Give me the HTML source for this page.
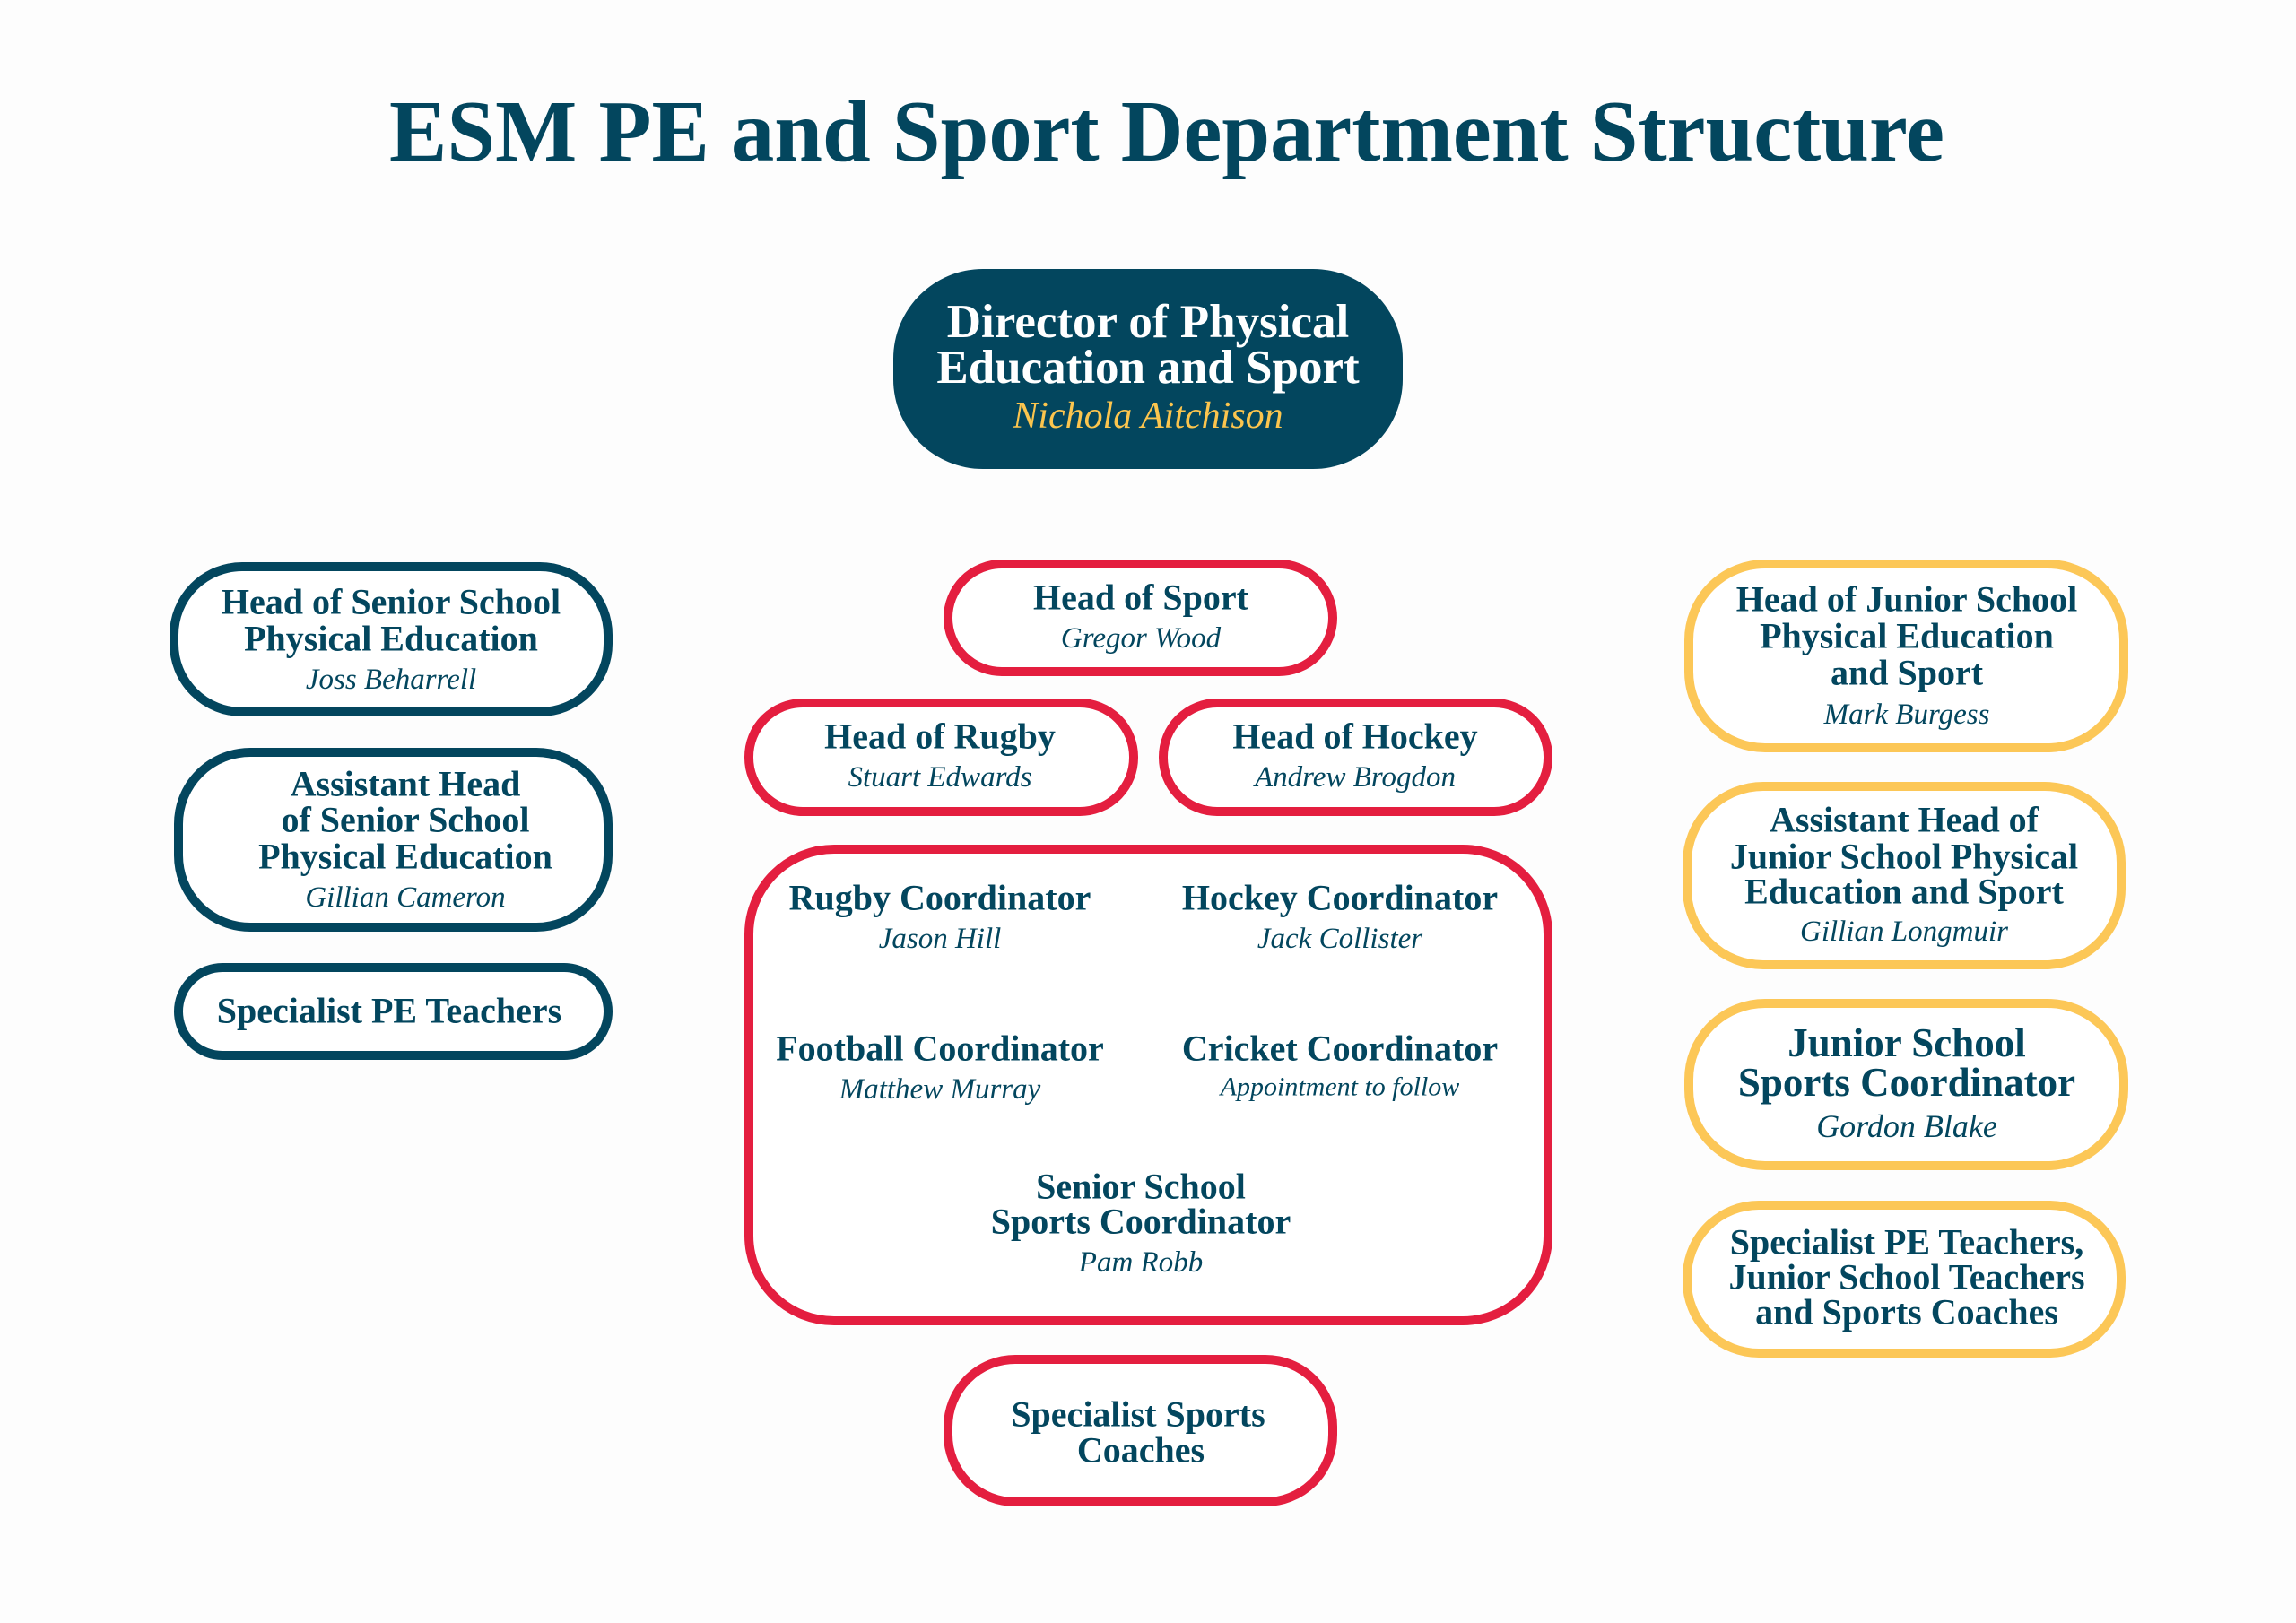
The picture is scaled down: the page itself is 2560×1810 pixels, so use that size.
<!DOCTYPE html>
<html><head><meta charset="utf-8"><style>
html,body{margin:0;padding:0;background:#fdfdfd;}
svg{display:block}
text{font-family:"Liberation Serif",serif;fill:#03465e;text-anchor:middle;dominant-baseline:central}
.b{font-weight:bold;font-size:40px}
.i{font-style:italic;font-size:33px}
</style></head><body>
<svg width="2560" height="1810" viewBox="0 0 2560 1810" xmlns="http://www.w3.org/2000/svg">
<rect width="2560" height="1810" fill="#fdfdfd"/>
<text x="1301" y="147" font-size="98" font-weight="bold" textLength="1734" lengthAdjust="spacingAndGlyphs">ESM PE and Sport Department Structure</text>

<rect x="996" y="300" width="568" height="223" rx="100" fill="#03465e"/>
<text x="1280" y="359" font-size="53" font-weight="bold" style="fill:#fff">Director of Physical</text>
<text x="1280" y="410" font-size="53" font-weight="bold" style="fill:#fff">Education and Sport</text>
<text x="1280" y="464" font-size="42" font-style="italic" style="fill:#fcc54e">Nichola Aitchison</text>

<g fill="#fff" stroke-width="10" stroke="#03465e">
<rect x="194" y="632" width="484" height="162" rx="76"/>
<rect x="199" y="839" width="479" height="195" rx="80"/>
<rect x="199" y="1079" width="479" height="98" rx="49"/>
</g>
<g fill="#fff" stroke-width="10" stroke="#e41e3f">
<rect x="1057" y="629" width="429" height="120" rx="60"/>
<rect x="835" y="784" width="429" height="121" rx="60"/>
<rect x="1297" y="784" width="429" height="121" rx="60"/>
<rect x="835" y="947" width="891" height="526" rx="95"/>
<rect x="1057" y="1516" width="429" height="159" rx="75"/>
</g>
<g fill="#fff" stroke-width="10" stroke="#fcc757">
<rect x="1883" y="629" width="485" height="205" rx="85"/>
<rect x="1881" y="877" width="484" height="199" rx="85"/>
<rect x="1883" y="1119" width="485" height="181" rx="85"/>
<rect x="1881" y="1344" width="484" height="165" rx="80"/>
</g>

<text class="b" x="436" y="671">Head of Senior School</text>
<text class="b" x="436" y="712">Physical Education</text>
<text class="i" x="436" y="758">Joss Beharrell</text>

<text class="b" x="452" y="874">Assistant Head</text>
<text class="b" x="452" y="914">of Senior School</text>
<text class="b" x="452" y="955">Physical Education</text>
<text class="i" x="452" y="1001">Gillian Cameron</text>

<text class="b" x="434" y="1127">Specialist PE Teachers</text>

<text class="b" x="1272" y="666">Head of Sport</text>
<text class="i" x="1272" y="712">Gregor Wood</text>
<text class="b" x="1048" y="821">Head of Rugby</text>
<text class="i" x="1048" y="867">Stuart Edwards</text>
<text class="b" x="1511" y="821">Head of Hockey</text>
<text class="i" x="1511" y="867">Andrew Brogdon</text>

<text class="b" x="1048" y="1001">Rugby Coordinator</text>
<text class="i" x="1048" y="1047">Jason Hill</text>
<text class="b" x="1494" y="1001">Hockey Coordinator</text>
<text class="i" x="1494" y="1047">Jack Collister</text>
<text class="b" x="1048" y="1169">Football Coordinator</text>
<text class="i" x="1048" y="1215">Matthew Murray</text>
<text class="b" x="1494" y="1169">Cricket Coordinator</text>
<text class="i" x="1494" y="1212" style="font-size:30px">Appointment to follow</text>
<text class="b" x="1272" y="1323">Senior School</text>
<text class="b" x="1272" y="1362">Sports Coordinator</text>
<text class="i" x="1272" y="1408">Pam Robb</text>

<text class="b" x="1269" y="1577">Specialist Sports</text>
<text class="b" x="1272" y="1617">Coaches</text>

<text class="b" x="2126" y="668">Head of Junior School</text>
<text class="b" x="2126" y="709">Physical Education</text>
<text class="b" x="2126" y="750">and Sport</text>
<text class="i" x="2126" y="797">Mark Burgess</text>

<text class="b" x="2123" y="914">Assistant Head of</text>
<text class="b" x="2123" y="955">Junior School Physical</text>
<text class="b" x="2123" y="994">Education and Sport</text>
<text class="i" x="2123" y="1039">Gillian Longmuir</text>

<text class="b" x="2126" y="1163" style="font-size:45px">Junior School</text>
<text class="b" x="2126" y="1207" style="font-size:45px">Sports Coordinator</text>
<text class="i" x="2126" y="1256" style="font-size:36px">Gordon Blake</text>

<text class="b" x="2126" y="1385">Specialist PE Teachers,</text>
<text class="b" x="2126" y="1424">Junior School Teachers</text>
<text class="b" x="2126" y="1463">and Sports Coaches</text>
</svg>
</body></html>
